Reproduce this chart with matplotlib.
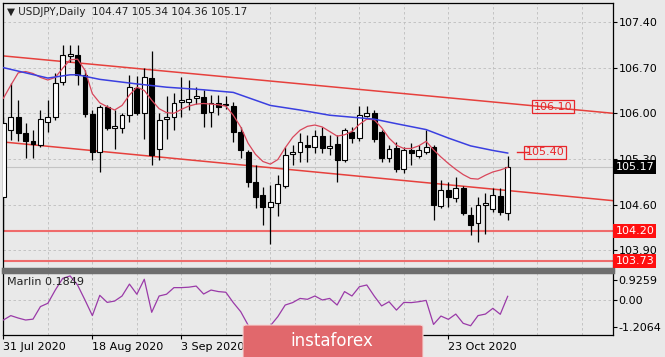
import numpy as np
import pandas as pd
import matplotlib
matplotlib.use("Agg")
import matplotlib.pyplot as plt
from matplotlib.patches import FancyBboxPatch
import matplotlib.transforms as mtransforms

# USDJPY daily candles, 31 Jul 2020 .. 4 Nov 2020
dates = pd.bdate_range("2020-07-31", "2020-11-04")
opens = [104.72, 105.75, 105.94, 105.70, 105.58, 105.51, 105.86, 105.94, 106.48, 106.88,
         106.89, 106.59, 105.99, 105.40, 106.10, 105.78, 105.78, 105.97, 106.38, 106.00,
         106.54, 105.45, 105.91, 105.95, 106.18, 106.17, 106.23, 106.25, 106.02, 106.16,
         106.14, 106.11, 105.72, 105.41, 104.95, 104.75, 104.57, 104.62, 104.88, 105.38,
         105.40, 105.52, 105.49, 105.65, 105.47, 105.53, 105.28, 105.72, 105.62, 105.96,
         106.01, 105.72, 105.32, 105.46, 105.15, 105.44, 105.34, 105.41, 105.49, 104.58,
         104.82, 104.70, 104.85, 104.44, 104.31, 104.60, 104.53, 104.73, 104.47]
highs = [105.95, 106.46, 106.20, 105.85, 105.74, 106.05, 106.21, 106.61, 107.05, 107.05,
         107.05, 106.66, 106.05, 106.13, 106.13, 106.05, 106.00, 106.59, 106.57, 106.69,
         106.96, 106.01, 106.26, 106.31, 106.55, 106.51, 106.40, 106.36, 106.28, 106.28,
         106.26, 106.18, 105.79, 105.44, 105.21, 104.87, 104.90, 105.05, 105.49, 105.51,
         105.69, 105.67, 105.74, 105.79, 105.67, 105.67, 105.77, 105.79, 106.11, 106.11,
         106.05, 105.74, 105.51, 105.56, 105.49, 105.54, 105.51, 105.75, 105.52, 104.98,
         104.95, 105.03, 104.88, 104.57, 104.72, 104.77, 104.85, 104.85, 105.34]
lows = [104.19, 105.59, 105.57, 105.32, 105.31, 105.48, 105.72, 105.90, 106.43, 106.79,
        106.43, 105.94, 105.28, 105.10, 105.74, 105.45, 105.69, 105.87, 105.97, 105.60,
        105.21, 105.29, 105.60, 105.75, 105.95, 106.05, 106.14, 105.79, 105.79, 105.97,
        106.07, 105.56, 105.31, 104.87, 104.54, 104.29, 104.00, 104.42, 104.85, 105.21,
        105.26, 105.26, 105.39, 105.39, 105.36, 104.95, 105.26, 105.54, 105.58, 105.95,
        105.56, 105.26, 105.26, 105.10, 105.08, 105.21, 105.31, 105.38, 104.36, 104.54,
        104.57, 104.64, 104.44, 104.13, 104.03, 104.15, 104.49, 104.44, 104.36]
closes = [105.85, 105.94, 105.70, 105.58, 105.53, 105.91, 105.94, 106.46, 106.89, 106.91,
          106.59, 105.99, 105.40, 106.10, 105.77, 105.81, 105.97, 106.40, 106.00, 106.55,
          105.36, 105.90, 105.95, 106.16, 106.21, 106.22, 106.26, 106.01, 106.16, 106.10,
          106.12, 105.72, 105.44, 104.95, 104.72, 104.57, 104.64, 104.92, 105.36, 105.41,
          105.56, 105.48, 105.65, 105.46, 105.50, 105.28, 105.74, 105.62, 105.97, 106.01,
          105.60, 105.31, 105.45, 105.15, 105.44, 105.39, 105.43, 105.49, 104.59, 104.82,
          104.71, 104.85, 104.47, 104.29, 104.59, 104.62, 104.75, 104.49, 105.17]

# fast (red) moving average, one value per candle
ma_fast = [106.23, 106.43, 106.62, 106.64, 106.61, 106.55, 106.51, 106.55, 106.69, 106.82,
           106.83, 106.66, 106.30, 106.16, 106.10, 106.05, 106.12, 106.28, 106.40, 106.35,
           106.20, 106.07, 106.01, 106.00, 106.06, 106.11, 106.14, 106.15, 106.14, 106.13,
           106.11, 105.97, 105.79, 105.54, 105.37, 105.26, 105.22, 105.29, 105.47, 105.63,
           105.74, 105.80, 105.82, 105.79, 105.72, 105.65, 105.67, 105.72, 105.83, 105.91,
           105.90, 105.78, 105.62, 105.51, 105.46, 105.46, 105.50, 105.57, 105.44, 105.33,
           105.23, 105.14, 105.06, 105.00, 104.99, 105.05, 105.10, 105.13, 105.17]

# slow (blue) moving average, read at some candles
ma_slow_idx = [0, 3, 6, 9, 10, 13, 18, 22, 27, 31, 33, 36, 40, 44, 50, 53, 57, 60, 63, 66, 68]
ma_slow = [106.70, 106.62, 106.54, 106.59, 106.59, 106.52, 106.45, 106.40, 106.36, 106.32,
           106.24, 106.12, 106.05, 105.97, 105.91, 105.84, 105.75, 105.62, 105.50, 105.43, 105.39]

marlin = [-0.89, -0.69, -0.80, -0.89, -0.85, -0.28, -0.13, 0.47, 1.00, 1.11,
          0.70, 0.02, -0.69, 0.23, -0.09, -0.03, 0.20, 0.74, 0.28, 0.96,
          -0.54, 0.20, 0.28, 0.58, 0.58, 0.60, 0.65, 0.29, 0.47, 0.40,
          0.37, -0.10, -0.51, -1.12, -1.40, -1.45, -1.15, -0.74, -0.21, -0.10,
          0.09, 0.05, 0.20, 0.02, 0.09, -0.21, 0.40, 0.20, 0.62, 0.70,
          0.20, -0.25, -0.06, -0.44, -0.09, -0.10, -0.06, 0.00, -1.09, -0.71,
          -0.86, -0.62, -1.04, -1.15, -0.69, -0.62, -0.36, -0.63, 0.1849]

# trend channel (value at left edge, value at right edge) and levels
channel_upper = [106.88, 106.00]
channel_lower = [105.56, 104.66]
levels = [104.20, 103.73]
target_up = 106.10
target_mid = 105.40

price_ticks = [103.90, 104.60, 105.30, 106.00, 106.70, 107.40]
marlin_ticks = [-1.2064, 0.00, 0.9259]
date_pos = [0, 12, 24, 60]  # the others sit under the watermark

BG = "#e9e9e9"
W, H = 665, 357
x_left, x_right = -0.05, 82.2

fig = plt.figure(figsize=(W / 100, H / 100), dpi=100, facecolor=BG)
ax = fig.add_axes([3 / W, 1 - 269 / H, 610 / W, 266 / H], facecolor=BG)
ax2 = fig.add_axes([3 / W, 1 - 335 / H, 610 / W, 63 / H], facecolor=BG)

idx = np.arange(len(closes))
o = np.array(opens); c = np.array(closes)
h = np.array(highs); l = np.array(lows)

# grid
for a in (ax, ax2):
    for gx in np.arange(0, 83, 6):
        a.axvline(gx, color="#bdbdbd", lw=0.6, ls=(0, (3, 3)), zorder=0)
for gy in price_ticks:
    ax.axhline(gy, color="#bdbdbd", lw=0.6, ls=(0, (3, 3)), zorder=0)
ax2.axhline(0, color="#bdbdbd", lw=0.6, ls=(0, (3, 3)), zorder=0)

# bid line
ax.axhline(closes[-1], color="#c4c4c4", lw=0.8, zorder=0.5)

# channel + levels
ax.plot([x_left, x_right], channel_upper, color="#e6403c", lw=1.1, zorder=1)
ax.plot([x_left, x_right], channel_lower, color="#e6403c", lw=1.1, zorder=1)
for lv in levels:
    ax.axhline(lv, color="#ef6b6b", lw=1.5, zorder=1)

# candles
ax.vlines(idx, l, h, color="black", lw=0.9, zorder=2)
up = c >= o
body = np.maximum(np.abs(c - o), 0.015)
ax.bar(idx[up], body[up], bottom=np.minimum(o, c)[up], width=0.66,
       color="white", edgecolor="black", linewidth=0.8, zorder=3)
ax.bar(idx[~up], body[~up], bottom=np.minimum(o, c)[~up], width=0.66,
       color="black", edgecolor="black", linewidth=0.8, zorder=3)

# moving averages
ax.plot(idx, ma_fast, color="#d9465a", lw=0.9, zorder=4)
ax.plot(ma_slow_idx, ma_slow, color="#3a3fe0", lw=1.1, zorder=4)

# price labels on chart
ax.text(74.1, target_up, "106.10", color="#e8262a", fontsize=8, ha="center", va="center",
        bbox=dict(boxstyle="square,pad=0.15", fc="none", ec="#e8262a", lw=0.9), zorder=5)
ax.plot([69.3, 70.7], [target_mid, target_mid], color="#e8262a", lw=1.0, zorder=5)
ax.text(73.0, target_mid, "105.40", color="#e8262a", fontsize=8, ha="center", va="center",
        bbox=dict(boxstyle="square,pad=0.15", fc="none", ec="#e8262a", lw=0.9), zorder=5)

ax.set_xlim(x_left, x_right)
ax.set_ylim(103.612, 107.691)
ax.set_xticks([])
ax.yaxis.tick_right()
ax.set_yticks(price_ticks)
ax.set_yticklabels(["%.2f" % t for t in price_ticks])
ax.tick_params(axis="y", length=3, width=0.8, pad=1, labelsize=8, colors="black")

trans = mtransforms.blended_transform_factory(ax.transAxes, ax.transData)
ax.text(1.004, closes[-1], "%.2f" % closes[-1], transform=trans, color="white", fontsize=8,
        va="center", ha="left", bbox=dict(boxstyle="square,pad=0.18", fc="black", ec="none"),
        clip_on=False, zorder=6)
for lv in levels:
    ax.text(1.004, lv, "%.2f" % lv, transform=trans, color="white", fontsize=8,
            va="center", ha="left", bbox=dict(boxstyle="square,pad=0.18", fc="#ff1010", ec="none"),
            clip_on=False, zorder=6)

# Marlin panel
ax2.plot(idx, marlin, color="#9a3aa8", lw=0.9, zorder=3)
ax2.set_xlim(x_left, x_right)
ax2.set_ylim(-1.570, 1.289)
ax2.yaxis.tick_right()
ax2.set_yticks(marlin_ticks)
ax2.set_yticklabels(["-1.2064", "0.00", "0.9259"])
ax2.tick_params(axis="y", length=3, width=0.8, pad=1, labelsize=8, colors="black")
ax2.set_xticks(date_pos)
ax2.set_xticklabels([d.strftime("%-d %b %Y") for d in dates[date_pos]], ha="left")
ax2.tick_params(axis="x", length=3, width=0.8, pad=2, labelsize=8, colors="black")

for a in (ax, ax2):
    for s in a.spines.values():
        s.set_color("black")
        s.set_linewidth(0.9)
ax.spines["bottom"].set_color("#6e6e6e")
ax.spines["bottom"].set_linewidth(2.5)
ax2.spines["top"].set_color("#6e6e6e")
ax2.spines["top"].set_linewidth(2.5)

fig.text(7 / W, 1 - 12 / H, "\u25bc USDJPY,Daily  %.2f %.2f %.2f %.2f" % (opens[-1], highs[-1], lows[-1], closes[-1]),
         fontsize=7.5, color="#222222", va="center", ha="left")
fig.text(7 / W, 1 - 282 / H, "Marlin %.4f" % marlin[-1], fontsize=8, color="#222222",
         va="center", ha="left")

# watermark
logo = FancyBboxPatch((243 / W, -0.02), 180 / W, 1 - 325 / H + 0.02,
                      boxstyle="round,pad=0,rounding_size=0.005", transform=fig.transFigure,
                      fc="#e1686c", ec="#f4d6d6", lw=0.8, zorder=10)
fig.patches.append(logo)
fig.text(332 / W, 1 - 341 / H, "instaforex", color="white", fontsize=12, ha="center",
         va="center", zorder=11)

fig.savefig("out.png", dpi=100, facecolor=BG)
